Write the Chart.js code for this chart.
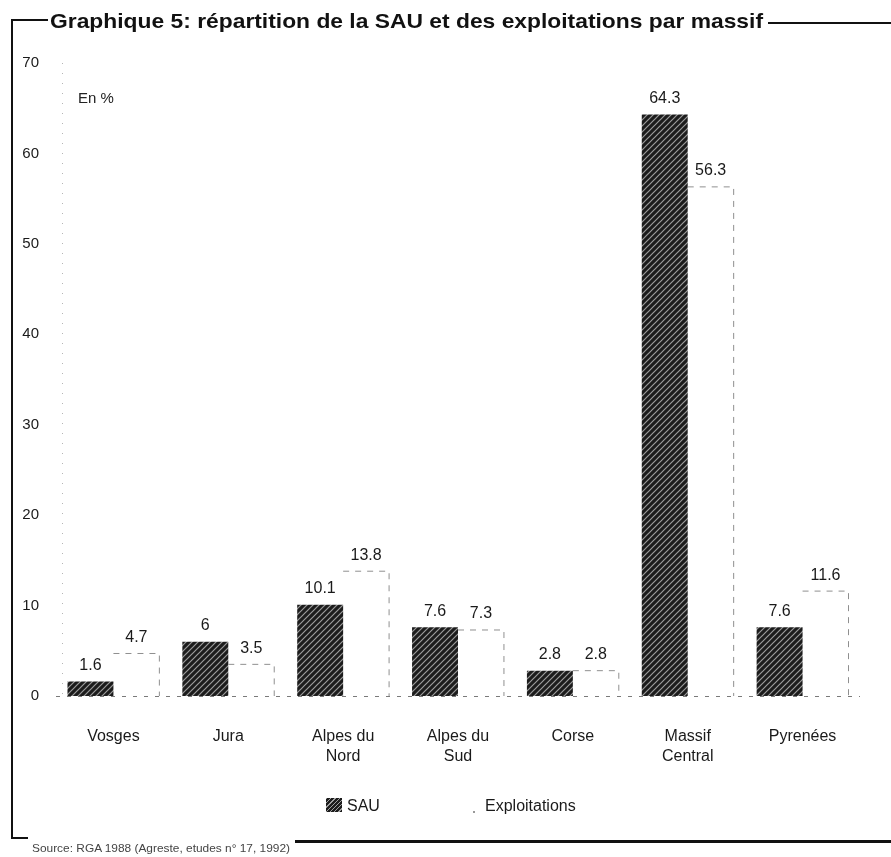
<!DOCTYPE html>
<html>
<head>
<meta charset="utf-8">
<script src="https://cdn.jsdelivr.net/npm/chart.js@4.4.0/dist/chart.umd.min.js"></script>
<style>
html, body { margin: 0; padding: 0; background: #fff; }
#page { position: relative; width: 891px; height: 857px; overflow: hidden;
  font-family: "Liberation Sans", Arial, sans-serif; color: #111; }
#chart { position: absolute; left: 0; top: 0; }
.ln { position: absolute; background: #111; }
.txt { position: absolute; white-space: nowrap; transform-origin: 0 0; }
#title { left: 50px; top: 10px; font-weight: bold; font-size: 21px; line-height: 21px; }
#unit { left: 78px; top: 90px; font-size: 15px; line-height: 15px; color: #222; }
#source { left: 32px; top: 843px; font-size: 11px; line-height: 11px; color: #444; }
.sw { position: absolute; width: 16px; height: 14px; }
#swSau { left: 326px; top: 798px;
  background: repeating-linear-gradient(-45deg, #1c1c1c 0 2px, #a0a0a0 2px 3px); }
#swExp { left: 473px; top: 811px; width: 2px; height: 2px; background: #999; }
.leg { top: 798px; font-size: 16px; line-height: 16px; color: #1a1a1a; }
</style>
</head>
<body>
<div id="page">
  <canvas id="chart" width="891" height="857"></canvas>
  <div class="ln" style="left:11px;top:19px;width:37px;height:2px"></div>
  <div class="ln" style="left:768px;top:22px;width:123px;height:2px"></div>
  <div class="ln" style="left:11px;top:19px;width:2px;height:820px"></div>
  <div class="ln" style="left:11px;top:837px;width:17px;height:2px"></div>
  <div class="ln" style="left:295px;top:840px;width:596px;height:3px"></div>
  <div class="txt" id="title">Graphique 5: répartition de la SAU et des exploitations par massif</div>
  <div class="txt" id="unit">En %</div>
  <div class="txt" id="source">Source: RGA 1988 (Agreste, etudes n° 17, 1992)</div>
  <div class="sw" id="swSau"></div>
  <div class="txt leg" style="left:347px">SAU</div>
  <div class="sw" id="swExp"></div>
  <div class="txt leg" style="left:485px">Exploitations</div>
</div>
<script>
// données (en %)
const categories = ['Vosges', 'Jura', ['Alpes du', 'Nord'], ['Alpes du', 'Sud'], 'Corse', ['Massif', 'Central'], 'Pyrenées'];
const sauValues = [1.6, 6, 10.1, 7.6, 2.8, 64.3, 7.6];
const exploitationsValues = [4.7, 3.5, 13.8, 7.3, 2.8, 56.3, 11.6];
const yTicks = [0, 10, 20, 30, 40, 50, 60, 70];

const FONT = '"Liberation Sans", Arial, sans-serif';

function fitWidth(id, w) {
  var el = document.getElementById(id);
  var r = el.getBoundingClientRect().width;
  el.style.transform = 'scaleX(' + (w / r) + ')';
}
fitWidth('title', 713);
fitWidth('source', 258);

var canvas = document.getElementById('chart');
var ctx = canvas.getContext('2d');

// hachures de la SAU
function hatch() {
  var c = document.createElement('canvas');
  c.width = 6; c.height = 6;
  var g = c.getContext('2d');
  g.fillStyle = '#1c1c1c';
  g.fillRect(0, 0, 6, 6);
  g.strokeStyle = '#9c9c9c';
  g.lineWidth = 1.2;
  g.beginPath();
  g.moveTo(-1, 7); g.lineTo(7, -1);
  g.moveTo(-1, 1); g.lineTo(1, -1);
  g.moveTo(5, 7); g.lineTo(7, 5);
  g.stroke();
  return ctx.createPattern(c, 'repeat');
}

// axes en pointillé (border.dash ne s'applique pas à la bordure)
const dottedAxes = {
  id: 'dottedAxes',
  beforeDatasetsDraw(chart) {
    var c = chart.ctx, a = chart.chartArea;
    var y0 = chart.scales.y.getPixelForValue(0);
    c.save();
    c.lineWidth = 1;
    c.strokeStyle = '#7a7a7a';
    c.setLineDash([4, 7]);
    c.beginPath();
    c.moveTo(a.left, y0 + 0.5);
    c.lineTo(a.right, y0 + 0.5);
    c.stroke();
    c.strokeStyle = '#b5b5b5';
    c.setLineDash([1, 9]);
    c.beginPath();
    c.moveTo(a.left + 6.5, a.top);
    c.lineTo(a.left + 6.5, y0);
    c.stroke();
    c.restore();
  }
};

// contour pointillé des barres "Exploitations"
const dashedOutline = {
  id: 'dashedOutline',
  afterDatasetsDraw(chart) {
    var c = chart.ctx;
    var meta = chart.getDatasetMeta(1);
    c.save();
    c.strokeStyle = '#8f8f8f';
    c.lineWidth = 1;
    c.setLineDash([6, 6]);
    meta.data.forEach(function (bar) {
      var l = bar.x - bar.width / 2, r = bar.x + bar.width / 2;
      c.beginPath();
      c.moveTo(l, bar.y);
      c.lineTo(r, bar.y);
      c.lineTo(r, bar.base);
      c.stroke();
    });
    c.restore();
  }
};

const valueLabels = {
  id: 'valueLabels',
  afterDatasetsDraw(chart) {
    var c = chart.ctx;
    c.save();
    c.font = '16px ' + FONT;
    c.fillStyle = '#1a1a1a';
    c.textAlign = 'center';
    c.textBaseline = 'middle';
    chart.data.datasets.forEach(function (ds, i) {
      chart.getDatasetMeta(i).data.forEach(function (bar, j) {
        c.fillText(String(ds.data[j]), bar.x, bar.y - 16);
      });
    });
    c.restore();
  }
};

new Chart(ctx, {
  type: 'bar',
  data: {
    labels: categories,
    datasets: [{
      label: 'SAU',
      data: sauValues,
      backgroundColor: hatch(),
      borderWidth: 0
    }, {
      label: 'Exploitations',
      data: exploitationsValues,
      backgroundColor: 'rgba(255,255,255,0)',
      borderWidth: 0
    }]
  },
  options: {
    responsive: false,
    animation: false,
    layout: { padding: { top: 63, right: 31, bottom: 0, left: 0 } },
    datasets: { bar: { categoryPercentage: 0.8, barPercentage: 1.0 } },
    plugins: {
      legend: { display: false },
      tooltip: { enabled: false }
    },
    scales: {
      x: {
        afterFit: function (s) { s.height = 161; },
        grid: { display: false, drawTicks: false },
        border: { display: false },
        ticks: { color: '#1a1a1a', padding: 31, maxRotation: 0, autoSkip: false,
          font: { family: FONT, size: 16, lineHeight: '20px' } }
      },
      y: {
        min: 0,
        max: 70,
        afterFit: function (s) { s.width = 56; },
        afterBuildTicks: function (s) { s.ticks = yTicks.map(function (v) { return { value: v }; }); },
        grid: { display: false, drawTicks: false },
        border: { display: false },
        ticks: { color: '#1a1a1a', padding: 17,
          font: { family: FONT, size: 15 } }
      }
    }
  },
  plugins: [dottedAxes, dashedOutline, valueLabels]
});
</script>
</body>
</html>
